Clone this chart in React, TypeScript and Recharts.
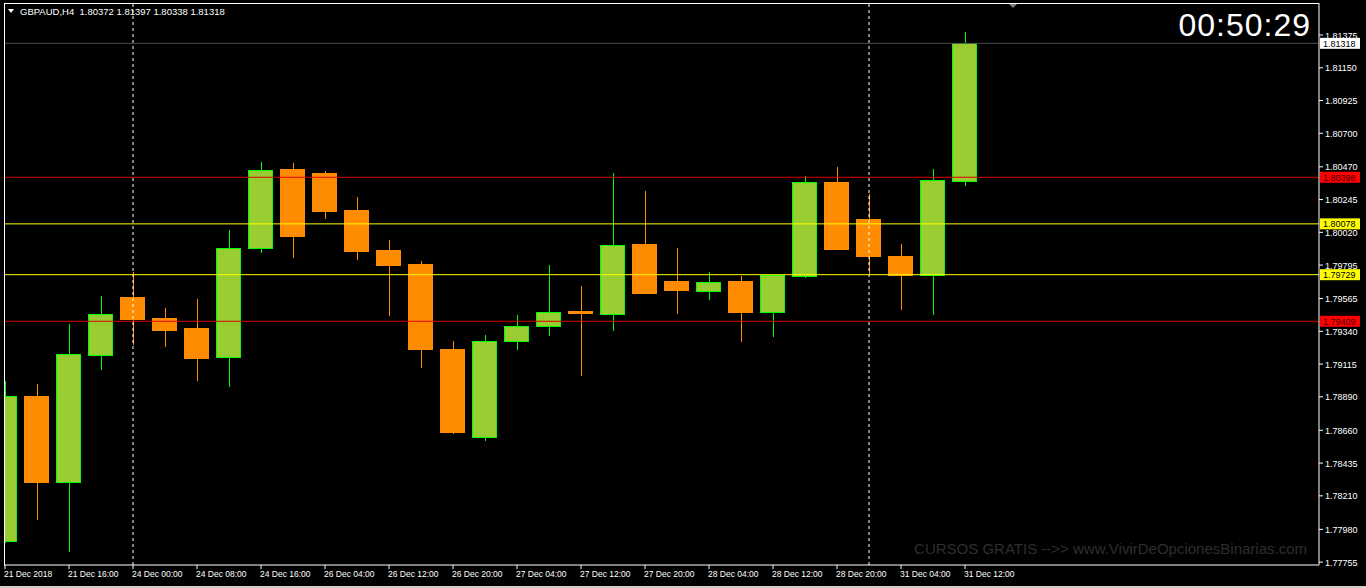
import { ComposedChart, Bar, XAxis, YAxis, ReferenceLine } from "recharts";

// GBPAUD H4 candles
const opens = [
  1.77895, 1.78889, 1.783, 1.79172, 1.79569, 1.79425, 1.79356, 1.79159, 1.79907, 1.80448, 1.80427,
  1.80173, 1.79898, 1.79802, 1.79212, 1.78612, 1.79269, 1.79372, 1.79473, 1.79454, 1.79933, 1.79679,
  1.79612, 1.79679, 1.79468, 1.79715, 1.80359, 1.80111, 1.79857, 1.79722, 1.80372,
];
const highs = [
  1.78999, 1.78978, 1.7939, 1.79583, 1.79747, 1.795, 1.79562, 1.80036, 1.80503, 1.80496, 1.80441,
  1.80262, 1.79967, 1.79823, 1.79273, 1.79315, 1.79452, 1.79795, 1.79651, 1.80427, 1.80304, 1.79912,
  1.79747, 1.7972, 1.79727, 1.80407, 1.80468, 1.80283, 1.7994, 1.80455, 1.81397,
];
const lows = [
  1.77886, 1.78044, 1.77826, 1.79074, 1.79246, 1.79232, 1.78999, 1.78957, 1.79878, 1.79843, 1.80111,
  1.7983, 1.79445, 1.79088, 1.78635, 1.78589, 1.79212, 1.79308, 1.79033, 1.79342, 1.796, 1.79459,
  1.79555, 1.79266, 1.79301, 1.79708, 1.79903, 1.79727, 1.79488, 1.79454, 1.80338,
];
const closes = [
  1.78889, 1.783, 1.79182, 1.79457, 1.79418, 1.79349, 1.7915, 1.7991, 1.80446, 1.79988, 1.80166,
  1.79885, 1.79795, 1.79218, 1.78648, 1.79273, 1.79374, 1.79471, 1.79459, 1.79931, 1.79603, 1.79617,
  1.79677, 1.79466, 1.7972, 1.80363, 1.79905, 1.79852, 1.79722, 1.80377, 1.81318,
];

// every second candle gets a time label
const dateLabels = [
  "21 Dec 2018", "21 Dec 16:00", "24 Dec 00:00", "24 Dec 08:00", "24 Dec 16:00", "26 Dec 04:00",
  "26 Dec 12:00", "26 Dec 20:00", "27 Dec 04:00", "27 Dec 12:00", "27 Dec 20:00", "28 Dec 04:00",
  "28 Dec 12:00", "28 Dec 20:00", "31 Dec 04:00", "31 Dec 12:00",
];
const dateTicks = dateLabels.map((_, k) => k * 2);

const priceTicks = [
  1.81375, 1.8115, 1.80925, 1.807, 1.8047, 1.80245, 1.8002, 1.79795, 1.79565, 1.7934, 1.79115,
  1.7889, 1.7866, 1.78435, 1.7821, 1.7798, 1.77755,
];

// week separators (candle index)
const separators = [4, 27];

// horizontal levels
const levels = [
  { price: 1.81318, color: "#4a4a4a", box: "#ffffff", text: "#000000" },
  { price: 1.80398, color: "#dd0000", box: "#ff0000", text: "#400000" },
  { price: 1.80078, color: "#ffff00", box: "#ffff00", text: "#000000" },
  { price: 1.79729, color: "#ffff00", box: "#ffff00", text: "#000000" },
  { price: 1.79409, color: "#dd0000", box: "#ff0000", text: "#400000" },
];

const data = opens.map((open, i) => ({
  i,
  open,
  high: highs[i],
  low: lows[i],
  close: closes[i],
}));

const FONT = "Liberation Sans, Arial, sans-serif";

function Candle(props: any) {
  const { x, y, width, height, payload } = props;
  const { open, close, high, low } = payload;
  const py = (p: number) => y + ((high - p) / (high - low)) * height;
  const up = close >= open;
  const cx = Math.round(x + width / 2) + 0.5;
  const top = py(Math.max(open, close));
  const bottom = py(Math.min(open, close));
  const bodyH = Math.max(1, bottom - top);
  const left = Math.round(x) + 0.5;
  const w = Math.round(width) - 1;
  return (
    <g shapeRendering="crispEdges">
      <line x1={cx} x2={cx} y1={y} y2={y + height} stroke={up ? "#00ff00" : "#ff8c00"} />
      <rect
        x={left}
        y={top}
        width={w}
        height={bodyH}
        fill={up ? "#9acd32" : "#ff8c00"}
        stroke={up ? "#00ff00" : "#ff8c00"}
      />
    </g>
  );
}

function DateTick(props: any) {
  const { x, y, payload } = props;
  return (
    <text x={x - 1} y={y + 6} fill="#ffffff" fontSize={8.5} fontFamily={FONT} textAnchor="start">
      {dateLabels[payload.value / 2]}
    </text>
  );
}

function PriceTick(props: any) {
  const { x, y, payload } = props;
  return (
    <text x={x} y={y + 3.5} fill="#ffffff" fontSize={9} fontFamily={FONT} textAnchor="start">
      {payload.value.toFixed(5)}
    </text>
  );
}

function levelLabel(box: string, text: string, price: number) {
  return (p: any) => {
    const vb = p.viewBox;
    const lx = vb.x + vb.width + 1;
    return (
      <g>
        <rect x={lx} y={vb.y - 5.5} width={40} height={11} fill={box} />
        <text x={lx + 3} y={vb.y + 3.5} fill={text} fontSize={9} fontFamily={FONT}>
          {price.toFixed(5)}
        </text>
      </g>
    );
  };
}

export default function App() {
  return (
    <div
      style={{
        position: "absolute",
        left: 0,
        top: 0,
        width: 1366,
        height: 588,
        background: "#000",
        overflow: "hidden",
      }}
    >
      <ComposedChart
        width={1366}
        height={588}
        data={data}
        margin={{ top: 3, right: 0, bottom: 0, left: 4 }}
      >
        <XAxis
          dataKey="i"
          type="number"
          domain={[-0.03125, 41.0625]}
          allowDataOverflow
          ticks={dateTicks}
          interval={0}
          height={23}
          stroke="#ffffff"
          tickSize={4}
          tickMargin={2}
          tick={<DateTick />}
        />
        <YAxis
          orientation="right"
          type="number"
          domain={[1.77735, 1.81595]}
          allowDataOverflow
          ticks={priceTicks}
          interval={0}
          width={47}
          stroke="#ffffff"
          tickSize={4}
          tickMargin={2}
          tick={<PriceTick />}
        />
        {separators.map((s) => (
          <ReferenceLine key={s} x={s} stroke="#ffffff" strokeDasharray="3 3" />
        ))}
        <Bar
          dataKey={(d: any) => [d.low, d.high]}
          barSize={25}
          shape={<Candle />}
          isAnimationActive={false}
        />
        {levels.map((l) => (
          <ReferenceLine
            key={l.price}
            y={l.price}
            stroke={l.color}
            strokeWidth={1}
            label={levelLabel(l.box, l.text, l.price)}
          />
        ))}
      </ComposedChart>
      <svg
        width={1366}
        height={588}
        style={{ position: "absolute", left: 0, top: 0, pointerEvents: "none" }}
      >
        <line x1={4.5} x2={4.5} y1={3} y2={565} stroke="#ffffff" />
        <line x1={4} x2={1319} y1={3.5} y2={3.5} stroke="#ffffff" />
        <rect x={0} y={586} width={1366} height={2} fill="#d4d0c8" />
        <polygon points="8,9 14,9 11,13" fill="#ffffff" />
        <text x={20} y={15} fill="#ffffff" fontSize={9.5} fontFamily={FONT} style={{ whiteSpace: "pre" }}>
          GBPAUD,H4  1.80372 1.81397 1.80338 1.81318
        </text>
        <polygon points="1009,4 1017,4 1013,8" fill="#808080" />
        <text
          x={1311}
          y={36}
          fill="#ffffff"
          fontSize={32}
          fontFamily={FONT}
          textAnchor="end"
          letterSpacing={1}
        >
          00:50:29
        </text>
        <text x={1307} y={554} fill="#2e2e2e" fontSize={15} fontFamily={FONT} textAnchor="end">
          CURSOS GRATIS --&gt;&gt; www.VivirDeOpcionesBinarias.com
        </text>
      </svg>
    </div>
  );
}
